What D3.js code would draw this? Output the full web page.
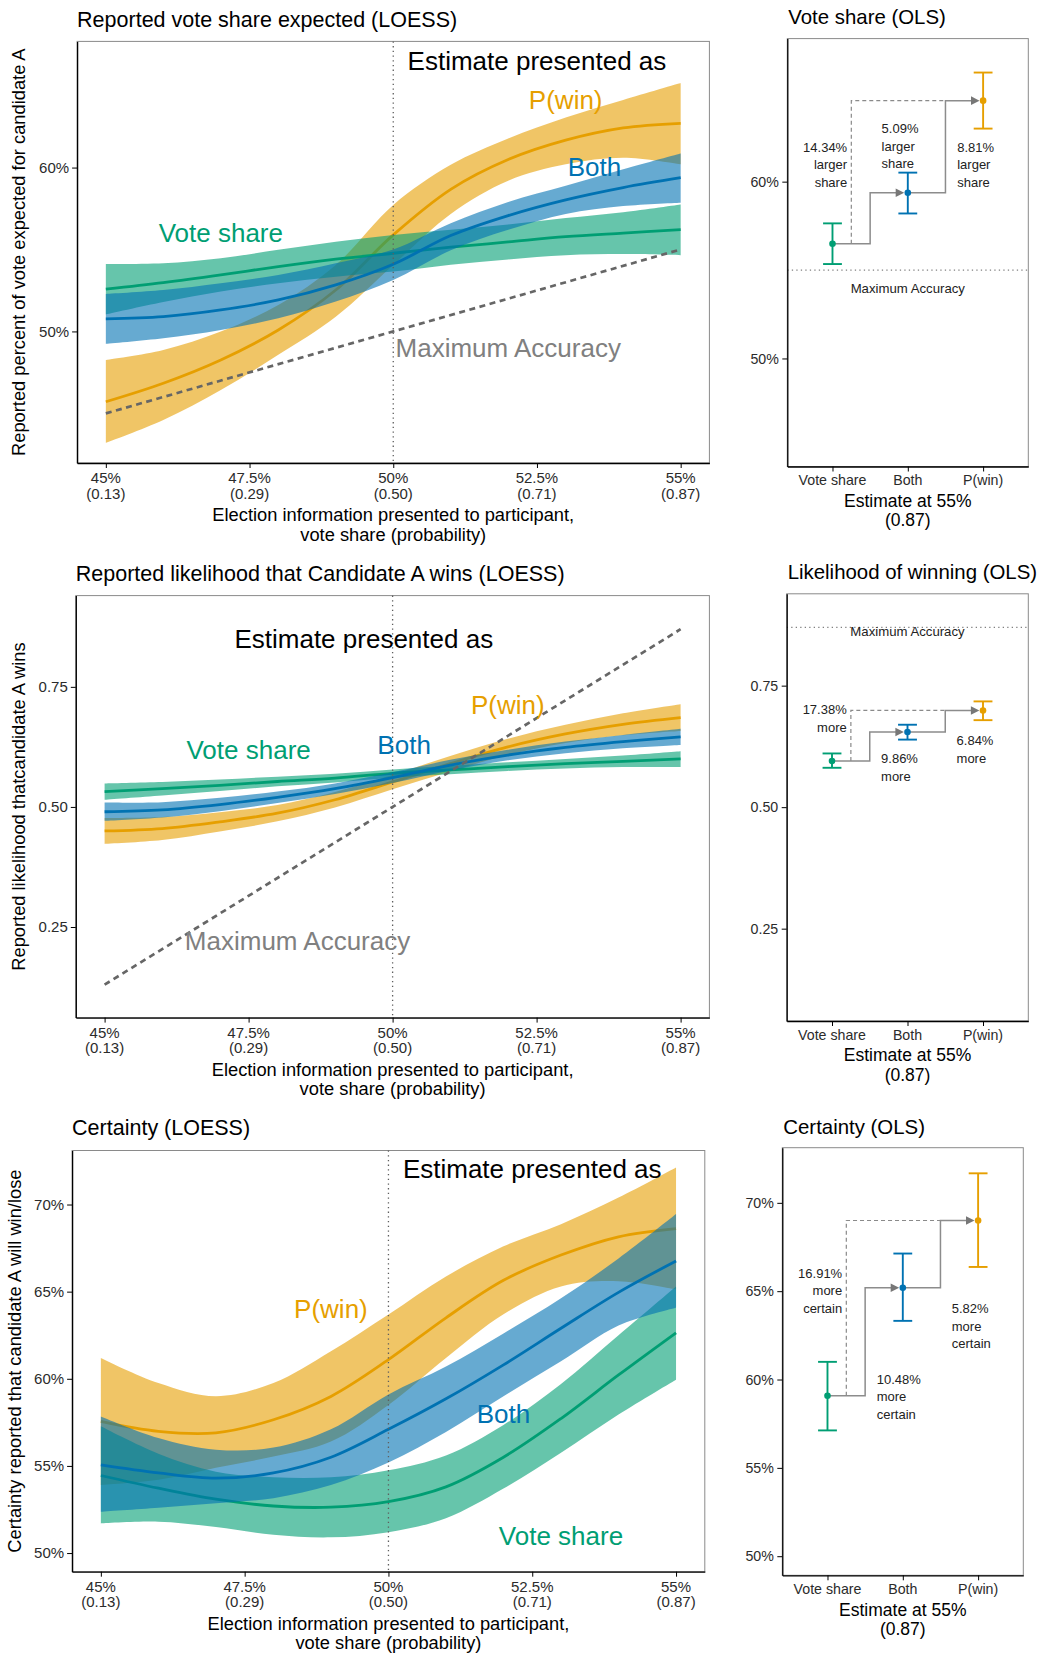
<!DOCTYPE html>
<html>
<head>
<meta charset="utf-8">
<script src="https://cdn.jsdelivr.net/npm/d3@7"></script>
<style>
  body { margin: 0; background: #fff; }
  svg { display: block; }
</style>
</head>
<body>
<svg id="chart" width="1041" height="1654"></svg>
<script>
// ---- data ----
const xVals = [45, 46, 47, 48, 49, 50, 51, 52, 53, 54, 55];
const xTicks = [45, 47.5, 50, 52.5, 55];
const xTickPct = ["45%", "47.5%", "50%", "52.5%", "55%"];
const xTickProb = ["(0.13)", "(0.29)", "(0.50)", "(0.71)", "(0.87)"];

// reported vote share expected (LOESS), percent
const voteShareFit = [52.58, 52.98, 53.45, 53.96, 54.41, 54.77, 55.14, 55.46, 55.78, 56.0, 56.21];
const voteShareLo  = [51.04, 51.8, 52.43, 52.94, 53.34, 53.65, 54.07, 54.39, 54.65, 54.72, 54.65];
const voteShareHi  = [54.12, 54.16, 54.47, 54.98, 55.48, 55.89, 56.21, 56.53, 56.92, 57.28, 57.75];
const voteBothFit  = [50.76, 50.9, 51.31, 51.92, 52.84, 54.1, 55.85, 57.07, 58.03, 58.78, 59.38];
const voteBothLo   = [49.24, 49.58, 50.09, 50.8, 51.82, 53.14, 54.95, 56.2, 57.17, 57.65, 57.86];
const voteBothHi   = [52.29, 52.53, 52.94, 53.45, 54.16, 55.0, 56.6, 57.9, 58.89, 59.9, 60.86];
const votePwinFit  = [45.71, 46.84, 48.26, 50.09, 52.53, 55.89, 58.67, 60.49, 61.67, 62.42, 62.7];
const votePwinLo   = [43.2, 44.6, 46.43, 48.57, 50.9, 54.06, 57.17, 59.2, 60.2, 60.6, 60.2];
const votePwinHi   = [48.26, 48.87, 49.99, 51.62, 54.06, 57.72, 60.17, 61.78, 63.06, 64.13, 65.16];
const voteMaxAccX  = [45, 55];
const voteMaxAccY  = [45, 55];

// reported likelihood that A wins (LOESS), probability
const likeShareFit = [0.532, 0.538, 0.545, 0.553, 0.560, 0.570, 0.577, 0.584, 0.590, 0.595, 0.600];
const likeShareLo  = [0.515, 0.524, 0.533, 0.543, 0.551, 0.561, 0.568, 0.575, 0.580, 0.583, 0.583];
const likeShareHi  = [0.549, 0.552, 0.557, 0.563, 0.569, 0.578, 0.586, 0.593, 0.600, 0.607, 0.616];
const likeBothFit  = [0.490, 0.494, 0.505, 0.520, 0.538, 0.561, 0.587, 0.608, 0.624, 0.636, 0.646];
const likeBothLo   = [0.471, 0.478, 0.491, 0.508, 0.527, 0.550, 0.576, 0.597, 0.612, 0.622, 0.629];
const likeBothHi   = [0.509, 0.510, 0.519, 0.532, 0.549, 0.572, 0.598, 0.619, 0.636, 0.650, 0.663];
const likePwinFit  = [0.450, 0.455, 0.469, 0.487, 0.515, 0.552, 0.590, 0.625, 0.652, 0.672, 0.686];
const likePwinLo   = [0.423, 0.431, 0.449, 0.470, 0.499, 0.537, 0.574, 0.608, 0.633, 0.649, 0.658];
const likePwinHi   = [0.477, 0.479, 0.489, 0.504, 0.531, 0.567, 0.606, 0.642, 0.671, 0.695, 0.714];
const likeMaxAccX  = [45, 55];
const likeMaxAccY  = [0.13, 0.87];

// certainty that A will win/lose (LOESS), percent
const certShareFit = [54.45, 53.72, 53.09, 52.7, 52.63, 52.95, 53.8, 55.5, 57.72, 60.22, 62.64];
const certShareLo  = [51.7, 51.8, 51.5, 51.05, 50.9, 51.2, 52.0, 53.7, 55.75, 57.95, 59.95];
const certShareHi  = [57.27, 55.7, 54.67, 54.35, 54.35, 54.75, 55.6, 57.35, 59.7, 62.5, 65.3];
const certBothFit  = [55.06, 54.6, 54.3, 54.6, 55.5, 57.1, 58.85, 60.8, 62.9, 64.96, 66.76];
const certBothLo   = [52.37, 52.6, 52.86, 53.15, 53.9, 55.2, 56.95, 59.0, 61.0, 63.06, 64.08];
const certBothHi   = [57.84, 56.6, 55.93, 56.05, 57.1, 59.1, 60.7, 62.6, 64.62, 66.9, 69.45];
const certPwinFit  = [57.55, 56.98, 56.9, 57.65, 58.99, 61.1, 63.5, 65.65, 67.1, 68.15, 68.62];
const certPwinLo   = [53.9, 54.2, 54.9, 55.54, 56.4, 58.5, 61.2, 63.7, 65.3, 65.6, 65.13];
const certPwinHi   = [61.2, 59.76, 59.0, 59.76, 61.58, 63.69, 65.87, 67.6, 68.87, 70.4, 72.13];

// OLS estimates at 55% (0.87)
const olsCats = ["Vote share", "Both", "P(win)"];
const olsVoteEst = [56.49, 59.37, 64.58];
const olsVoteLo  = [55.34, 58.2, 63.0];
const olsVoteHi  = [57.64, 60.51, 66.17];
const olsLikeEst = [0.595, 0.6545, 0.699];
const olsLikeLo  = [0.581, 0.639, 0.679];
const olsLikeHi  = [0.6105, 0.6696, 0.7176];
const olsCertEst = [59.08, 65.19, 69.0];
const olsCertLo  = [57.12, 63.32, 66.37];
const olsCertHi  = [61.0, 67.13, 71.67];

const olsVoteNotes = ["14.34%|larger|share", "5.09%|larger|share", "8.81%|larger|share"];
const olsLikeNotes = ["17.38%|more", "9.86%|more", "6.84%|more"];
const olsCertNotes = ["16.91%|more|certain", "10.48%|more|certain", "5.82%|more|certain"];

// ---- drawing ----
const FONT = '"Liberation Sans", Arial, Helvetica, sans-serif';
const colors = {"P(win)": "#E69F00", "Vote share": "#009E73", "Both": "#0072B2"};
const drawOrder = ["P(win)", "Vote share", "Both"];
const pct = d => d3.format("d")(d) + "%";

const svg = d3.select("#chart").attr("font-family", FONT);

function loessPanel(p) {
  const x = d3.scaleLinear().domain([44.5, 55.5]).range([p.left, p.right]);
  const y = d3.scaleLinear().domain(p.yDomain).range([p.bottom, p.top]);
  const g = svg.append("g");

  g.append("text").attr("x", p.left).attr("y", p.titleY)
    .attr("font-size", 21.5).attr("fill", "#000").text(p.title);

  g.append("rect")
    .attr("x", p.left).attr("y", p.top)
    .attr("width", p.right - p.left).attr("height", p.bottom - p.top)
    .attr("fill", "none").attr("stroke", "#8a8a8a");

  const area = d3.area().curve(d3.curveCatmullRom)
    .x(d => x(d.x)).y0(d => y(d.lo)).y1(d => y(d.hi));
  const line = d3.line().curve(d3.curveCatmullRom)
    .x(d => x(d.x)).y(d => y(d.fit));

  drawOrder.forEach(name => {
    const [fit, lo, hi] = p.series[name];
    const rows = xVals.map((v, i) => ({x: v, fit: fit[i], lo: lo[i], hi: hi[i]}));
    g.append("path").datum(rows).attr("d", area)
      .attr("fill", colors[name]).attr("fill-opacity", 0.6);
    g.append("path").datum(rows).attr("d", line)
      .attr("fill", "none").attr("stroke", colors[name]).attr("stroke-width", 2.8);
  });

  // reference at 50%
  g.append("line")
    .attr("x1", x(50)).attr("x2", x(50)).attr("y1", p.top).attr("y2", p.bottom)
    .attr("stroke", "#5e5e5e").attr("stroke-width", 1.3).attr("stroke-dasharray", "1.3,3.4");

  if (p.maxAcc) {
    const [mx, my] = p.maxAcc;
    g.append("path").datum(mx.map((v, i) => [v, my[i]]))
      .attr("d", d3.line().x(d => x(d[0])).y(d => y(d[1])))
      .attr("fill", "none").attr("stroke", "#666")
      .attr("stroke-width", 2.7).attr("stroke-dasharray", "6,4.5");
  }

  // axes
  const ya = g.append("g").attr("transform", `translate(${p.left},0)`)
    .call(d3.axisLeft(y).tickValues(p.yTicks).tickFormat(p.yFormat)
      .tickSize(5).tickSizeOuter(0).tickPadding(3));
  ya.attr("font-size", 15).attr("font-family", FONT);
  ya.select(".domain").attr("stroke", "#000").attr("stroke-width", 1.3);
  ya.selectAll(".tick text").attr("fill", "#2b2b2b");

  const xa = g.append("g").attr("transform", `translate(0,${p.bottom})`)
    .call(d3.axisBottom(x).tickValues(xTicks).tickFormat(() => "")
      .tickSize(5).tickSizeOuter(0));
  xa.select(".domain").attr("stroke", "#000").attr("stroke-width", 1.3);

  xTicks.forEach((v, i) => {
    [xTickPct[i], xTickProb[i]].forEach((t, j) => {
      g.append("text").attr("x", x(v)).attr("y", p.bottom + 20 + j * 15.5)
        .attr("text-anchor", "middle").attr("font-size", 15).attr("fill", "#2b2b2b").text(t);
    });
  });

  ["Election information presented to participant,", "vote share (probability)"].forEach((t, j) => {
    g.append("text").attr("x", (p.left + p.right) / 2).attr("y", p.bottom + 58 + j * 19.5)
      .attr("text-anchor", "middle").attr("font-size", 18.3).attr("fill", "#000").text(t);
  });

  g.append("text")
    .attr("transform", `translate(${p.yTitleX},${(p.top + p.bottom) / 2}) rotate(-90)`)
    .attr("text-anchor", "middle").attr("font-size", 18.3).attr("fill", "#000").text(p.yTitle);

  // in-plot labels
  p.labels.forEach(l => {
    g.append("text").attr("x", x(l.x)).attr("y", y(l.y))
      .attr("text-anchor", "middle").attr("font-size", 26)
      .attr("fill", l.color).text(l.text);
  });
}

function olsPanel(p) {
  const x = d3.scaleLinear().domain([0.4, 3.6]).range([p.left, p.right]);
  const y = d3.scaleLinear().domain(p.yDomain).range([p.bottom, p.top]);
  const g = svg.append("g");
  const [est, lo, hi] = [p.est, p.lo, p.hi];

  g.append("text").attr("x", p.left + 1).attr("y", p.titleY)
    .attr("font-size", 20.4).attr("fill", "#000").text(p.title);

  g.append("rect")
    .attr("x", p.left).attr("y", p.top)
    .attr("width", p.right - p.left).attr("height", p.bottom - p.top)
    .attr("fill", "none").attr("stroke", "#8a8a8a");

  if (p.maxAcc != null) {
    g.append("line").attr("x1", p.left).attr("x2", p.right)
      .attr("y1", y(p.maxAcc)).attr("y2", y(p.maxAcc))
      .attr("stroke", "#808080").attr("stroke-width", 1.2).attr("stroke-dasharray", "1.3,3.2");
    g.append("text").attr("x", x(2)).attr("y", y(p.maxLabelY))
      .attr("text-anchor", "middle").attr("font-size", 13.2).attr("fill", "#222")
      .text("Maximum Accuracy");
  }

  // total change, dashed
  g.append("path")
    .attr("d", `M${x(1.25)},${y(est[0])}V${y(est[2])}H${x(2.5)}`)
    .attr("fill", "none").attr("stroke", "#8a8a8a").attr("stroke-width", 1.2)
    .attr("stroke-dasharray", "4,3");

  // step arrows
  [0, 1].forEach(i => {
    const tip = x(i + 2) - 3.6;
    g.append("path")
      .attr("d", `M${x(i + 1)},${y(est[i])}H${x(i + 1.5)}V${y(est[i + 1])}H${tip - 6}`)
      .attr("fill", "none").attr("stroke", "#8c8c8c").attr("stroke-width", 1.5);
    const yy = y(est[i + 1]);
    g.append("path")
      .attr("d", `M${tip},${yy}L${tip - 8.5},${yy - 4.3}L${tip - 8.5},${yy + 4.3}Z`)
      .attr("fill", "#777");
  });

  // error bars and points
  olsCats.forEach((c, i) => {
    const col = colors[c], cx = i + 1;
    g.append("line").attr("x1", x(cx)).attr("x2", x(cx))
      .attr("y1", y(lo[i])).attr("y2", y(hi[i])).attr("stroke", col).attr("stroke-width", 1.9);
    [lo[i], hi[i]].forEach(v => {
      g.append("line").attr("x1", x(cx - 0.125)).attr("x2", x(cx + 0.125))
        .attr("y1", y(v)).attr("y2", y(v)).attr("stroke", col).attr("stroke-width", 1.9);
    });
    g.append("circle").attr("cx", x(cx)).attr("cy", y(est[i])).attr("r", 3.3).attr("fill", col);
  });

  // notes
  p.notes.forEach((n, i) => {
    const pos = p.notePos[i];
    const t = g.append("text").attr("x", x(pos.x)).attr("y", y(pos.y))
      .attr("text-anchor", pos.anchor).attr("font-size", 13).attr("fill", "#222");
    n.split("|").forEach((s, j) => {
      t.append("tspan").attr("x", x(pos.x)).attr("dy", j === 0 ? 0 : 17.6).text(s);
    });
  });

  // axes
  const ya = g.append("g").attr("transform", `translate(${p.left},0)`)
    .call(d3.axisLeft(y).tickValues(p.yTicks).tickFormat(p.yFormat)
      .tickSize(5).tickSizeOuter(0).tickPadding(3.5));
  ya.attr("font-size", 14.2).attr("font-family", FONT);
  ya.select(".domain").attr("stroke", "#000").attr("stroke-width", 1.3);
  ya.selectAll(".tick text").attr("fill", "#2b2b2b");

  const xa = g.append("g").attr("transform", `translate(0,${p.bottom})`)
    .call(d3.axisBottom(x).tickValues([1, 2, 3]).tickFormat(() => "")
      .tickSize(5).tickSizeOuter(0));
  xa.select(".domain").attr("stroke", "#000").attr("stroke-width", 1.3);
  olsCats.forEach((c, i) => {
    g.append("text").attr("x", x(i + 1)).attr("y", p.bottom + 18.6)
      .attr("text-anchor", "middle").attr("font-size", 14.2).attr("fill", "#2b2b2b").text(c);
  });
  ["Estimate at 55%", "(0.87)"].forEach((t, j) => {
    g.append("text").attr("x", (p.left + p.right) / 2).attr("y", p.bottom + 40.4 + j * 19.4)
      .attr("text-anchor", "middle").attr("font-size", 17.5).attr("fill", "#000").text(t);
  });
}

// ---- panels ----
loessPanel({
  left: 77.1, right: 709.4, top: 41.4, bottom: 463, yDomain: [41.97, 67.7],
  titleY: 27.4, title: "Reported vote share expected (LOESS)",
  yTitleX: 25, yTitle: "Reported percent of vote expected for candidate A",
  yTicks: [50, 60], yFormat: pct,
  series: {
    "Vote share": [voteShareFit, voteShareLo, voteShareHi],
    "Both": [voteBothFit, voteBothLo, voteBothHi],
    "P(win)": [votePwinFit, votePwinLo, votePwinHi]
  },
  maxAcc: [voteMaxAccX, voteMaxAccY],
  labels: [
    {text: "Estimate presented as", x: 52.5, y: 65.96, color: "#000"},
    {text: "P(win)", x: 53.0, y: 63.55, color: colors["P(win)"]},
    {text: "Both", x: 53.5, y: 59.46, color: colors["Both"]},
    {text: "Vote share", x: 47.0, y: 55.46, color: colors["Vote share"]},
    {text: "Maximum Accuracy", x: 52.0, y: 48.44, color: "#808080"}
  ]
});

loessPanel({
  left: 75.8, right: 709.4, top: 595.6, bottom: 1017.6, yDomain: [0.0614, 0.94],
  titleY: 580.9, title: "Reported likelihood that Candidate A wins (LOESS)",
  yTitleX: 25, yTitle: "Reported likelihood thatcandidate A wins",
  yTicks: [0.25, 0.5, 0.75], yFormat: d3.format(".2f"),
  series: {
    "Vote share": [likeShareFit, likeShareLo, likeShareHi],
    "Both": [likeBothFit, likeBothLo, likeBothHi],
    "P(win)": [likePwinFit, likePwinLo, likePwinHi]
  },
  maxAcc: [likeMaxAccX, likeMaxAccY],
  labels: [
    {text: "Estimate presented as", x: 49.5, y: 0.831, color: "#000"},
    {text: "P(win)", x: 52.0, y: 0.693, color: colors["P(win)"]},
    {text: "Both", x: 50.2, y: 0.611, color: colors["Both"]},
    {text: "Vote share", x: 47.5, y: 0.600, color: colors["Vote share"]},
    {text: "Maximum Accuracy", x: 48.35, y: 0.202, color: "#808080"}
  ]
});

loessPanel({
  left: 72.1, right: 704.8, top: 1150.5, bottom: 1571.7, yDomain: [48.93, 73.1],
  titleY: 1135.3, title: "Certainty (LOESS)",
  yTitleX: 20.5, yTitle: "Certainty reported that candidate A will win/lose",
  yTicks: [50, 55, 60, 65, 70], yFormat: pct,
  series: {
    "Vote share": [certShareFit, certShareLo, certShareHi],
    "Both": [certBothFit, certBothLo, certBothHi],
    "P(win)": [certPwinFit, certPwinLo, certPwinHi]
  },
  maxAcc: null,
  labels: [
    {text: "Estimate presented as", x: 52.5, y: 71.55, color: "#000"},
    {text: "P(win)", x: 49.0, y: 63.5, color: colors["P(win)"]},
    {text: "Both", x: 52.0, y: 57.46, color: colors["Both"]},
    {text: "Vote share", x: 53.0, y: 50.49, color: colors["Vote share"]}
  ]
});

olsPanel({
  left: 787.3, right: 1028.3, top: 38.6, bottom: 466.5, yDomain: [43.89, 68.09],
  titleY: 23.9, title: "Vote share (OLS)",
  yTicks: [50, 60], yFormat: pct,
  est: olsVoteEst, lo: olsVoteLo, hi: olsVoteHi,
  maxAcc: 55, maxLabelY: 53.71,
  notes: olsVoteNotes,
  notePos: [
    {x: 1.195, y: 61.7, anchor: "end"},
    {x: 1.652, y: 62.74, anchor: "start"},
    {x: 2.656, y: 61.7, anchor: "start"}
  ]
});

olsPanel({
  left: 786.7, right: 1028.3, top: 593.8, bottom: 1021, yDomain: [0.060, 0.939],
  titleY: 578.8, title: "Likelihood of winning (OLS)",
  yTicks: [0.25, 0.5, 0.75], yFormat: d3.format(".2f"),
  est: olsLikeEst, lo: olsLikeLo, hi: olsLikeHi,
  maxAcc: 0.87, maxLabelY: 0.852,
  notes: olsLikeNotes,
  notePos: [
    {x: 1.195, y: 0.691, anchor: "end"},
    {x: 1.65, y: 0.590, anchor: "start"},
    {x: 2.65, y: 0.628, anchor: "start"}
  ]
});

olsPanel({
  left: 782.3, right: 1023.3, top: 1147.7, bottom: 1575.3, yDomain: [48.92, 73.12],
  titleY: 1133.6, title: "Certainty (OLS)",
  yTicks: [50, 55, 60, 65, 70], yFormat: pct,
  est: olsCertEst, lo: olsCertLo, hi: olsCertHi,
  maxAcc: null,
  notes: olsCertNotes,
  notePos: [
    {x: 1.195, y: 65.76, anchor: "end"},
    {x: 1.654, y: 59.76, anchor: "start"},
    {x: 2.65, y: 63.76, anchor: "start"}
  ]
});
</script>
</body>
</html>
